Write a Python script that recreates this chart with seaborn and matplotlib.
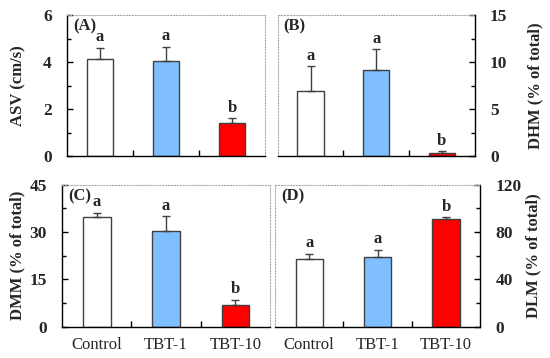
import numpy as np
import pandas as pd
import seaborn as sns
import matplotlib as mpl
import matplotlib.pyplot as plt
from matplotlib.ticker import MultipleLocator, FixedLocator

sns.set_theme(style="white")
plt.rcParams['font.family'] = ['Liberation Serif', 'DejaVu Serif']

groups = ['Control', 'TBT-1', 'TBT-10']
colors = ['#ffffff', '#80bfff', '#ff0000']

asv_mean = [4.15, 4.03, 1.39]
asv_err = [0.45, 0.60, 0.21]
dhm_mean = [6.9, 9.2, 0.32]
dhm_err = [2.65, 2.15, 0.18]
dmm_mean = [34.8, 30.4, 7.0]
dmm_err = [1.3, 4.6, 1.5]
dlm_mean = [57.4, 58.8, 91.0]
dlm_err = [4.2, 5.9, 1.4]

letters_asv = ['a', 'a', 'b']
letters_dhm = ['a', 'a', 'b']
letters_dmm = ['a', 'a', 'b']
letters_dlm = ['a', 'a', 'b']

panels = [
    dict(mean=asv_mean, err=asv_err, let=letters_asv, tag='(A)', ylabel='ASV (cm/s)',
         ymax=6, step=2, side='left', rect=[0.122, 0.564, 0.360, 0.394], xlab=False,
         lab_x=-0.205),
    dict(mean=dhm_mean, err=dhm_err, let=letters_dhm, tag='(B)', ylabel='DHM (% of total)',
         ymax=15, step=5, side='right', rect=[0.505, 0.564, 0.358, 0.394], xlab=False,
         lab_x=1.27),
    dict(mean=dmm_mean, err=dmm_err, let=letters_dmm, tag='(C)', ylabel='DMM (% of total)',
         ymax=45, step=15, side='left', rect=[0.113, 0.087, 0.378, 0.397], xlab=True,
         lab_x=-0.175),
    dict(mean=dlm_mean, err=dlm_err, let=letters_dlm, tag='(D)', ylabel='DLM (% of total)',
         ymax=120, step=40, side='right', rect=[0.500, 0.087, 0.373, 0.397], xlab=True,
         lab_x=1.22),
]

fig = plt.figure(figsize=(5.5, 3.58), dpi=100)

for p in panels:
    ax = fig.add_axes(p['rect'])
    df = pd.DataFrame({'group': groups, 'value': p['mean']})
    sns.barplot(data=df, x='group', y='value', hue='group', palette=colors, saturation=1,
                width=0.4, edgecolor='#404040', linewidth=1, legend=False, ax=ax)
    x = np.arange(len(groups))
    ax.errorbar(x, p['mean'], yerr=[np.zeros(len(groups)), p['err']], fmt='none',
                ecolor='#404040', elinewidth=1, capsize=3, capthick=1)
    for xi, m, e, l in zip(x, p['mean'], p['err'], p['let']):
        ax.annotate(l, (xi, m + e), xytext=(0, 2), textcoords='offset points',
                    ha='center', va='bottom', fontsize=12, fontweight='bold')
    ax.text(0.03, 0.92, p['tag'], transform=ax.transAxes, ha='left', va='center',
            fontsize=12, fontweight='bold')

    ax.set_xlim(-0.5, 2.5)
    ax.set_ylim(0, p['ymax'])
    ax.yaxis.set_major_locator(MultipleLocator(p['step']))
    ax.yaxis.set_minor_locator(MultipleLocator(p['step'] / 2))
    ax.xaxis.set_minor_locator(FixedLocator([0.5, 1.5]))
    ax.set_xlabel('')
    ax.set_ylabel(p['ylabel'], fontsize=12, fontweight='bold')

    for s in ax.spines.values():
        s.set_visible(True)
        s.set_color('#aaaaaa')
        s.set_linestyle(':')
        s.set_linewidth(0.8)
    for side in ['bottom', p['side']]:
        ax.spines[side].set_color('black')
        ax.spines[side].set_linestyle('-')
        ax.spines[side].set_linewidth(1)

    if p['side'] == 'right':
        ax.yaxis.tick_right()
        ax.yaxis.set_label_position('right')
        ax.tick_params(axis='y', which='both', left=False, right=True)
    else:
        ax.tick_params(axis='y', which='both', left=True, right=False)
    ax.yaxis.set_label_coords(p['lab_x'], 0.5)

    ax.tick_params(axis='y', which='major', direction='in', length=4, width=1,
                   labelsize=12.5, color='black', pad=11)
    ax.tick_params(axis='y', which='minor', direction='in', length=3, width=1, color='black')
    ax.tick_params(axis='x', which='major', length=0, labelsize=12, pad=7)
    ax.tick_params(axis='x', which='minor', direction='in', length=4, width=1,
                   bottom=True, color='black')
    for t in ax.get_yticklabels():
        t.set_fontweight('bold')
    if not p['xlab']:
        ax.set_xticklabels([])

fig.savefig('out.png', dpi=100)
